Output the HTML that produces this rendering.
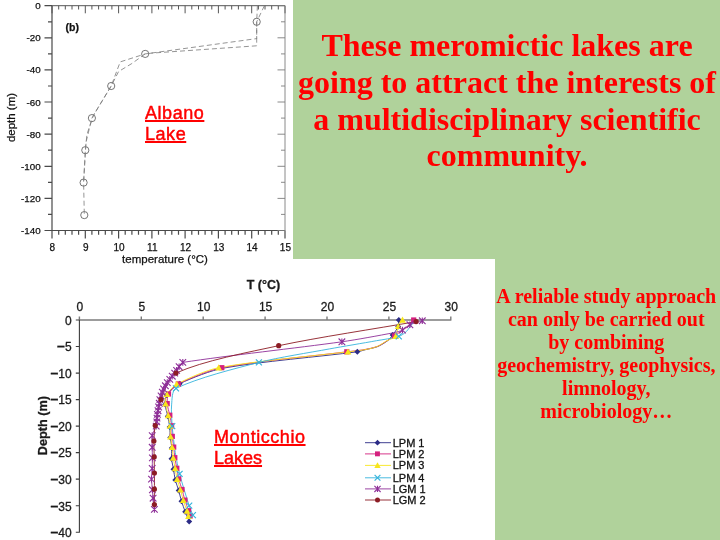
<!DOCTYPE html>
<html lang="en">
<head>
<meta charset="utf-8">
<title>Meromictic lakes</title>
<style>
html,body{margin:0;padding:0;}
body{width:720px;height:540px;overflow:hidden;background:#b0d29b;position:relative;font-family:"Liberation Sans",Arial,sans-serif;}
.w1{position:absolute;left:0;top:0;width:293px;height:259px;background:#fff;}
.w2{position:absolute;left:0;top:259px;width:495px;height:281px;background:#fff;}
svg{position:absolute;left:0;top:0;}
.title{position:absolute;left:295px;top:27px;width:424px;text-align:center;color:#f00;font-family:"Liberation Serif","Times New Roman",serif;font-weight:bold;font-size:32px;line-height:36.8px;margin:0;}
.sub{position:absolute;left:494.3px;top:285px;width:224px;text-align:center;color:#f00;font-family:"Liberation Serif","Times New Roman",serif;font-weight:bold;font-size:20px;line-height:22.9px;margin:0;}
.lab{position:absolute;color:#f00;font-family:"Liberation Sans","Trebuchet MS",sans-serif;font-size:18px;line-height:21px;text-decoration:underline;text-decoration-thickness:1.5px;text-underline-offset:1.4px;margin:0;letter-spacing:0.55px;-webkit-text-stroke:0.45px #f00;white-space:nowrap;}
</style>
</head>
<body>
<div class="w1"></div>
<div class="w2"></div>
<svg width="720" height="540" viewBox="0 0 720 540">
<g id="chart1">
<path d="M52 5.7V230.5H285M52 230.5v8M58.7 230.5v4.2M65.3 230.5v4.2M72 230.5v4.2M78.6 230.5v4.2M85.3 230.5v8M91.9 230.5v4.2M98.6 230.5v4.2M105.3 230.5v4.2M111.9 230.5v4.2M118.6 230.5v8M125.2 230.5v4.2M131.9 230.5v4.2M138.5 230.5v4.2M145.2 230.5v4.2M151.9 230.5v8M158.5 230.5v4.2M165.2 230.5v4.2M171.8 230.5v4.2M178.5 230.5v4.2M185.1 230.5v8M191.8 230.5v4.2M198.5 230.5v4.2M205.1 230.5v4.2M211.8 230.5v4.2M218.4 230.5v8M225.1 230.5v4.2M231.7 230.5v4.2M238.4 230.5v4.2M245.1 230.5v4.2M251.7 230.5v8M258.4 230.5v4.2M265 230.5v4.2M271.7 230.5v4.2M278.3 230.5v4.2M285 230.5v8M52 5.7h-7.5M52 21.8h-4M52 37.8h-7.5M52 53.9h-4M52 69.9h-7.5M52 86h-4M52 102h-7.5M52 118.1h-4M52 134.2h-7.5M52 150.2h-4M52 166.3h-7.5M52 182.3h-4M52 198.4h-7.5M52 214.4h-4M52 230.5h-7.5" stroke="#4a4a4a" stroke-width="1.2" fill="none"/>
<path d="M52 5.7H285M52 5.7v7.6M58.7 5.7v3.8000000000000003M65.3 5.7v3.8000000000000003M72 5.7v3.8000000000000003M78.6 5.7v3.8000000000000003M85.3 5.7v7.6M91.9 5.7v3.8000000000000003M98.6 5.7v3.8000000000000003M105.3 5.7v3.8000000000000003M111.9 5.7v3.8000000000000003M118.6 5.7v7.6M125.2 5.7v3.8000000000000003M131.9 5.7v3.8000000000000003M138.5 5.7v3.8000000000000003M145.2 5.7v3.8000000000000003M151.9 5.7v7.6M158.5 5.7v3.8000000000000003M165.2 5.7v3.8000000000000003M171.8 5.7v3.8000000000000003M178.5 5.7v3.8000000000000003M185.1 5.7v7.6M191.8 5.7v3.8000000000000003M198.5 5.7v3.8000000000000003M205.1 5.7v3.8000000000000003M211.8 5.7v3.8000000000000003M218.4 5.7v7.6M225.1 5.7v3.8000000000000003M231.7 5.7v3.8000000000000003M238.4 5.7v3.8000000000000003M245.1 5.7v3.8000000000000003M251.7 5.7v7.6M258.4 5.7v3.8000000000000003M265 5.7v3.8000000000000003M271.7 5.7v3.8000000000000003M278.3 5.7v3.8000000000000003M285 5.7v7.6" stroke="#555" stroke-width="1" fill="none"/>
<path d="M285 5.7V231M285 5.7h-7.5M285 21.8h-4M285 37.8h-7.5M285 53.9h-4M285 69.9h-7.5M285 86h-4M285 102h-7.5M285 118.1h-4M285 134.2h-7.5M285 150.2h-4M285 166.3h-7.5M285 182.3h-4M285 198.4h-7.5M285 214.4h-4M285 230.5h-7.5" stroke="#7d7d7d" stroke-width="0.9" fill="none"/>
<g font-family="Liberation Sans, Arial, sans-serif" font-size="9.8" fill="#111" stroke="#111" stroke-width="0.25">
<text x="52.4" y="250.9" text-anchor="middle" font-size="10">8</text>
<text x="85.7" y="250.9" text-anchor="middle" font-size="10">9</text>
<text x="119" y="250.9" text-anchor="middle" font-size="10">10</text>
<text x="152.3" y="250.9" text-anchor="middle" font-size="10">11</text>
<text x="185.5" y="250.9" text-anchor="middle" font-size="10">12</text>
<text x="218.8" y="250.9" text-anchor="middle" font-size="10">13</text>
<text x="252.1" y="250.9" text-anchor="middle" font-size="10">14</text>
<text x="285.4" y="250.9" text-anchor="middle" font-size="10">15</text>
<text x="40.7" y="9.2" text-anchor="end">0</text>
<text x="40.7" y="41.3" text-anchor="end">-20</text>
<text x="40.7" y="73.4" text-anchor="end">-40</text>
<text x="40.7" y="105.5" text-anchor="end">-60</text>
<text x="40.7" y="137.7" text-anchor="end">-80</text>
<text x="40.7" y="169.8" text-anchor="end">-100</text>
<text x="40.7" y="201.9" text-anchor="end">-120</text>
<text x="40.7" y="234" text-anchor="end">-140</text>
<text x="165" y="262.5" text-anchor="middle" font-size="11.5">temperature (°C)</text>
<text transform="translate(14.5 117.5) rotate(-90)" text-anchor="middle" font-size="11.5">depth (m)</text>
<text x="65.5" y="30.7" font-weight="bold" font-size="10.5">(b)</text>
</g>
<g stroke="#4a4a4a" stroke-width="0.75" fill="none">
<circle cx="256.7" cy="21.8" r="3.6"/>
<circle cx="145.2" cy="53.9" r="3.6"/>
<circle cx="111.2" cy="86" r="3.6"/>
<circle cx="91.9" cy="118.1" r="3.6"/>
<circle cx="85.3" cy="150.2" r="3.6"/>
<circle cx="83.6" cy="182.6" r="3.6"/>
<circle cx="84.3" cy="215.1" r="3.6"/>
<polyline points="264.4,5.7 256.7,21.8 256.7,38.6 145.2,53.9 120.2,61.9 111.2,86 91.9,118.1 86,142.2 84.6,166.3 83.6,182.3 84.3,214.4" stroke-dasharray="5 3" stroke="#7a7a7a" stroke-width="0.8"/>
<polyline points="257.4,5.7 256.7,21.8 256.7,45.8 151.9,53.1 145.2,53.9 131.9,63.5 118.6,71.5 111.2,86 93.6,114.9 87,134.2 85.3,150.2 83.6,182.3" stroke-dasharray="5 3" stroke="#7a7a7a" stroke-width="0.8"/>
</g>
</g>
<g id="chart2">
<path d="M78.9 320H451.4M79.4 320v-3.6M141.3 320v-3.6M203.2 320v-3.6M265.1 320v-3.6M327 320v-3.6M388.9 320v-3.6M450.8 320v-3.6" stroke="#7c7c7c" stroke-width="1.4" fill="none"/>
<path d="M79.4 532.7V320M79.4 320h-3.6M79.4 346.5h-3.6M79.4 373.1h-3.6M79.4 399.6h-3.6M79.4 426.1h-3.6M79.4 452.6h-3.6M79.4 479.1h-3.6M79.4 505.7h-3.6M79.4 532.2h-3.6" stroke="#3c3c3c" stroke-width="1.1" fill="none"/>
<g font-family="Liberation Sans, Arial, sans-serif" font-size="12" fill="#1a1a1a" stroke="#1a1a1a" stroke-width="0.3">
<text x="79.9" y="310.5" text-anchor="middle">0</text>
<text x="141.8" y="310.5" text-anchor="middle">5</text>
<text x="203.7" y="310.5" text-anchor="middle">10</text>
<text x="265.6" y="310.5" text-anchor="middle">15</text>
<text x="327.5" y="310.5" text-anchor="middle">20</text>
<text x="389.4" y="310.5" text-anchor="middle">25</text>
<text x="451.3" y="310.5" text-anchor="middle">30</text>
<text x="71.6" y="324.8" text-anchor="end">0</text>
<text x="71.6" y="351.3" text-anchor="end"><tspan font-weight="bold" font-size="14">–</tspan>5</text>
<text x="71.6" y="377.9" text-anchor="end"><tspan font-weight="bold" font-size="14">–</tspan>10</text>
<text x="71.6" y="404.4" text-anchor="end"><tspan font-weight="bold" font-size="14">–</tspan>15</text>
<text x="71.6" y="430.9" text-anchor="end"><tspan font-weight="bold" font-size="14">–</tspan>20</text>
<text x="71.6" y="457.4" text-anchor="end"><tspan font-weight="bold" font-size="14">–</tspan>25</text>
<text x="71.6" y="483.9" text-anchor="end"><tspan font-weight="bold" font-size="14">–</tspan>30</text>
<text x="71.6" y="510.5" text-anchor="end"><tspan font-weight="bold" font-size="14">–</tspan>35</text>
<text x="71.6" y="537" text-anchor="end"><tspan font-weight="bold" font-size="14">–</tspan>40</text>
<text x="263.5" y="288.5" text-anchor="middle" font-weight="bold" font-size="12.5">T (°C)</text>
<text transform="translate(46.8 425.6) rotate(-90)" text-anchor="middle" font-weight="bold" font-size="12.7">Depth (m)</text>
</g>
<path d="M398.8 320C398.6 321.8 398.9 324.7 398.2 326.4C397.1 329.1 394.3 332.8 392.6 335.1C391.4 336.8 389.3 339.4 387.7 340.7C385.1 342.6 380.7 345.3 377.8 346.5C374.4 347.9 368.8 348.8 365.4 349.7C363.1 350.3 359.6 351.5 357.3 351.8C320.1 356.7 261.2 361.4 224.2 368C211.2 370.3 191.7 378 179.7 383.7C175.3 385.7 169.3 391.1 166.6 395.1C165 397.3 165 401.9 165.2 404.6C165.4 408 167.1 413 167.8 416.3C168.4 419.2 169.3 423.9 169.7 426.9C170 429.9 170 434.5 170.3 437.5C170.6 440.5 171.6 445.1 171.8 448.1C171.9 451.1 171.3 455.8 171.5 458.7C171.8 461.7 173 466.4 173.5 469.3C174 472.3 174.6 477 175.3 479.9C176.1 483 177.8 487.6 178.7 490.6C179.5 493.5 180.6 498.2 181.5 501.2C182.5 504.2 184.1 508.8 185.2 511.8C186.3 514.5 188.1 518.8 189.2 521.6" fill="none" stroke="#2b2b86" stroke-width="0.9" stroke-linejoin="round"/>
<path d="M413.7 320C412.3 321.5 410.3 324 408.7 325.3C404.9 328.5 398.5 333 394.5 335.9C392.6 337.2 389.6 339.2 387.7 340.4C384.9 342.1 380.7 345.1 377.8 346.3C374.4 347.6 368.9 348.8 365.4 349.4C360.2 350.4 352 351.2 346.8 351.8C311.8 356.3 256.4 361.1 221.8 367.7C209 370.2 190 378.2 178.3 383.9C174.8 385.7 170.5 390.6 168.5 394C167.2 396.4 167 400.9 167.2 403.6C167.4 406.9 169.1 411.9 169.8 415.2C170.4 418.2 171.3 422.8 171.6 425.8C172 428.8 172 433.5 172.2 436.4C172.5 439.4 173.4 444.1 173.7 447.1C174.1 450 174.4 454.7 174.8 457.7C175.3 460.7 176.3 465.3 176.8 468.3C177.4 471.2 178 476 178.7 478.9C179.4 481.9 181.2 486.5 182 489.5C182.9 492.4 184 497.2 184.9 500.1C185.8 503.1 187.6 507.7 188.6 510.7C189.1 512.2 189.7 514.5 190.1 516" fill="none" stroke="#d4207e" stroke-width="0.9" stroke-linejoin="round"/>
<path d="M402.5 320C401.3 321.8 399 324.4 398.2 326.4C397.1 329 397.4 333.9 395.7 336.2C394 338.3 389.4 339.4 387 340.7C384.2 342.3 380.1 345.3 377.1 346.5C373.8 347.9 368.3 349.1 364.8 349.7C360.1 350.6 352.7 351.3 348 351.8C311.8 356.3 254.5 361 218.7 367.7C206.3 370.1 187.9 378.4 176.7 384.2C173.2 386 168.9 390.9 166.9 394.3C165.6 396.6 165.4 401.1 165.6 403.8C165.8 407.2 167.5 412.2 168.2 415.5C168.8 418.4 169.7 423.1 170 426.1C170.4 429.1 170.3 433.7 170.6 436.7C170.9 439.7 171.8 444.3 172.1 447.3C172.5 450.3 172.8 455 173.2 457.9C173.7 460.9 174.7 465.6 175.2 468.5C175.8 471.5 176.4 476.2 177.1 479.1C177.8 482.2 179.5 486.8 180.4 489.8C181.3 492.7 182.4 497.4 183.3 500.4C184.2 503.4 186 508 187 511C187.5 512.4 188.1 514.8 188.5 516.3" fill="none" stroke="#f7e51c" stroke-width="0.9" stroke-linejoin="round"/>
<path d="M413.7 321.6C411.6 324.4 408.7 329.2 406.2 331.7C404.5 333.4 401.2 335.7 398.8 336.4C392.7 338.3 382.8 339.6 376.5 340.7C363.4 343.1 342.6 346.5 329.5 348.9C309.7 352.6 278.4 357.4 258.9 362.4C235.3 368.5 197.9 377.8 176 388.4C171.7 390.5 172.1 400.1 171.6 404.9C171 410.8 171.8 420.2 172.2 426.1C172.8 433.6 174.2 445.2 175.3 452.6C176.3 458.6 178 468 179.6 473.8C181.9 482.9 186.3 496.8 189.2 505.7C190.1 508.4 191.9 512.6 192.9 515.2" fill="none" stroke="#35b4dc" stroke-width="0.9" stroke-linejoin="round"/>
<path d="M422.3 320.8C418.9 321.9 413.2 323.2 409.9 324.8C407.6 325.9 404.8 328.9 402.5 330.1C400.2 331.2 396.3 332.3 393.9 332.7C379.3 335.5 356.5 339.7 341.9 341.8C297.4 348 227.2 355.6 182.8 362.4C181.2 362.7 180 365.4 179.1 366.7C178.3 367.7 177.3 369.4 176.6 370.4C176.1 371.1 175.3 372.3 174.7 373.1C174.1 374 172.9 375.3 172.2 376.2C171.6 377.1 170.5 378.5 169.8 379.4C169.1 380.3 167.9 381.7 167.3 382.6C166.7 383.5 166 384.9 165.4 385.8C164.9 386.7 164 388 163.6 389C163.2 389.8 162.7 391.2 162.3 392.1C162 393.2 161.5 394.8 161.1 395.9C160.8 396.9 160.1 398.5 159.9 399.6C159.6 400.6 159.4 402.2 159.3 403.3C159.1 404.3 158.8 406 158.6 407C158.5 408 158.2 409.7 158 410.7C157.8 411.8 157.5 413.4 157.4 414.4C157.3 415.5 157.1 417.1 157 418.1C156.9 419.2 156.9 420.8 156.8 421.9C156.6 423 156.5 425 156.2 426.1C155.2 428.8 152.7 432.8 152.2 435.6C151.6 438.9 152.2 444.1 152.2 447.3C152.2 450.3 152.4 455 152.4 457.9C152.4 460.9 152.3 465.6 152.2 468.5C152.1 471.5 151.4 476.2 151.5 479.1C151.5 482.1 152.2 486.8 152.4 489.8C152.6 492.1 152.8 495.9 153.1 498.2C153.4 501.4 154 506.3 154.4 509.4" fill="none" stroke="#8e2f98" stroke-width="0.9" stroke-linejoin="round"/>
<path d="M416.1 321.6C377.7 328.4 316.9 337.5 278.7 345.7C249.6 352 203 360.7 176 373.1C168.2 376.6 164.2 391.7 161.1 399.6C158.4 406.5 156.4 418.2 155.2 425.6C154.4 429.8 154.1 436.6 153.9 441C153.8 445.4 154.1 452.4 154.2 456.9C154.2 461.4 154.4 468.5 154.4 473C154.5 477.6 154.4 484.7 154.4 489.2C154.4 493.5 154.4 500.3 154.4 504.6" fill="none" stroke="#8c1c24" stroke-width="0.9" stroke-linejoin="round"/>
<path d="M398.8 317L401.8 320L398.8 323L395.8 320Z" fill="#2b2b86"/>
<path d="M398.2 323.4L401.2 326.4L398.2 329.4L395.2 326.4Z" fill="#2b2b86"/>
<path d="M392.6 332.1L395.6 335.1L392.6 338.1L389.6 335.1Z" fill="#2b2b86"/>
<path d="M357.3 348.8L360.3 351.8L357.3 354.8L354.3 351.8Z" fill="#2b2b86"/>
<path d="M179.7 380.7L182.7 383.7L179.7 386.7L176.7 383.7Z" fill="#2b2b86"/>
<path d="M166.6 392.1L169.6 395.1L166.6 398.1L163.6 395.1Z" fill="#2b2b86"/>
<path d="M165.2 401.6L168.2 404.6L165.2 407.6L162.2 404.6Z" fill="#2b2b86"/>
<path d="M167.8 413.3L170.8 416.3L167.8 419.3L164.8 416.3Z" fill="#2b2b86"/>
<path d="M169.7 423.9L172.7 426.9L169.7 429.9L166.7 426.9Z" fill="#2b2b86"/>
<path d="M170.3 434.5L173.3 437.5L170.3 440.5L167.3 437.5Z" fill="#2b2b86"/>
<path d="M171.8 445.1L174.8 448.1L171.8 451.1L168.8 448.1Z" fill="#2b2b86"/>
<path d="M171.5 455.7L174.5 458.7L171.5 461.7L168.5 458.7Z" fill="#2b2b86"/>
<path d="M173.5 466.3L176.5 469.3L173.5 472.3L170.5 469.3Z" fill="#2b2b86"/>
<path d="M175.3 476.9L178.3 479.9L175.3 482.9L172.3 479.9Z" fill="#2b2b86"/>
<path d="M178.7 487.6L181.7 490.6L178.7 493.6L175.7 490.6Z" fill="#2b2b86"/>
<path d="M181.5 498.2L184.5 501.2L181.5 504.2L178.5 501.2Z" fill="#2b2b86"/>
<path d="M185.2 508.8L188.2 511.8L185.2 514.8L182.2 511.8Z" fill="#2b2b86"/>
<path d="M189.2 518.6L192.2 521.6L189.2 524.6L186.2 521.6Z" fill="#2b2b86"/>
<rect x="411.1" y="317.4" width="5.2" height="5.2" fill="#d4207e"/>
<rect x="391.9" y="333.3" width="5.2" height="5.2" fill="#d4207e"/>
<rect x="344.2" y="349.2" width="5.2" height="5.2" fill="#d4207e"/>
<rect x="219.2" y="365.1" width="5.2" height="5.2" fill="#d4207e"/>
<rect x="175.7" y="381.3" width="5.2" height="5.2" fill="#d4207e"/>
<rect x="165.9" y="391.4" width="5.2" height="5.2" fill="#d4207e"/>
<rect x="164.6" y="401" width="5.2" height="5.2" fill="#d4207e"/>
<rect x="167.2" y="412.6" width="5.2" height="5.2" fill="#d4207e"/>
<rect x="169" y="423.2" width="5.2" height="5.2" fill="#d4207e"/>
<rect x="169.7" y="433.8" width="5.2" height="5.2" fill="#d4207e"/>
<rect x="171.1" y="444.5" width="5.2" height="5.2" fill="#d4207e"/>
<rect x="172.2" y="455.1" width="5.2" height="5.2" fill="#d4207e"/>
<rect x="174.2" y="465.7" width="5.2" height="5.2" fill="#d4207e"/>
<rect x="176.1" y="476.3" width="5.2" height="5.2" fill="#d4207e"/>
<rect x="179.4" y="486.9" width="5.2" height="5.2" fill="#d4207e"/>
<rect x="182.3" y="497.5" width="5.2" height="5.2" fill="#d4207e"/>
<rect x="186" y="508.1" width="5.2" height="5.2" fill="#d4207e"/>
<rect x="187.5" y="513.4" width="5.2" height="5.2" fill="#d4207e"/>
<path d="M402.5 316.6L405.9 322.7H399.1Z" fill="#f7e51c"/>
<path d="M398.2 323L401.6 329.1H394.8Z" fill="#f7e51c"/>
<path d="M395.7 332.8L399.1 338.9H392.3Z" fill="#f7e51c"/>
<path d="M348 348.4L351.4 354.6H344.6Z" fill="#f7e51c"/>
<path d="M218.7 364.3L222.1 370.5H215.3Z" fill="#f7e51c"/>
<path d="M176.7 380.8L180.1 386.9H173.3Z" fill="#f7e51c"/>
<path d="M166.9 390.9L170.3 397H163.5Z" fill="#f7e51c"/>
<path d="M165.6 400.4L169 406.5H162.2Z" fill="#f7e51c"/>
<path d="M168.2 412.1L171.6 418.2H164.8Z" fill="#f7e51c"/>
<path d="M170 422.7L173.4 428.8H166.6Z" fill="#f7e51c"/>
<path d="M170.6 433.3L174 439.4H167.2Z" fill="#f7e51c"/>
<path d="M172.1 443.9L175.5 450H168.7Z" fill="#f7e51c"/>
<path d="M173.2 454.5L176.6 460.7H169.8Z" fill="#f7e51c"/>
<path d="M175.2 465.1L178.6 471.3H171.8Z" fill="#f7e51c"/>
<path d="M177.1 475.8L180.5 481.9H173.7Z" fill="#f7e51c"/>
<path d="M180.4 486.4L183.8 492.5H177Z" fill="#f7e51c"/>
<path d="M183.3 497L186.7 503.1H179.9Z" fill="#f7e51c"/>
<path d="M187 507.6L190.4 513.7H183.6Z" fill="#f7e51c"/>
<path d="M188.5 512.9L191.9 519H185.1Z" fill="#f7e51c"/>
<path d="M395.8 333.4L401.8 339.4M395.8 339.4L401.8 333.4" stroke="#35b4dc" stroke-width="1.2" fill="none"/>
<path d="M255.9 359.4L261.9 365.4M255.9 365.4L261.9 359.4" stroke="#35b4dc" stroke-width="1.2" fill="none"/>
<path d="M173 385.4L179 391.4M173 391.4L179 385.4" stroke="#35b4dc" stroke-width="1.2" fill="none"/>
<path d="M169.2 423.1L175.2 429.1M169.2 429.1L175.2 423.1" stroke="#35b4dc" stroke-width="1.2" fill="none"/>
<path d="M176.6 470.8L182.6 476.8M176.6 476.8L182.6 470.8" stroke="#35b4dc" stroke-width="1.2" fill="none"/>
<path d="M186.2 502.7L192.2 508.7M186.2 508.7L192.2 502.7" stroke="#35b4dc" stroke-width="1.2" fill="none"/>
<path d="M189.9 512.2L195.9 518.2M189.9 518.2L195.9 512.2" stroke="#35b4dc" stroke-width="1.2" fill="none"/>
<path d="M419 317.5L425.6 324.1M419 324.1L425.6 317.5M422.3 317.5V324.1" stroke="#8e2f98" stroke-width="1.1" fill="none"/>
<path d="M406.6 321.5L413.2 328.1M406.6 328.1L413.2 321.5M409.9 321.5V328.1" stroke="#8e2f98" stroke-width="1.1" fill="none"/>
<path d="M399.2 326.8L405.8 333.4M399.2 333.4L405.8 326.8M402.5 326.8V333.4" stroke="#8e2f98" stroke-width="1.1" fill="none"/>
<path d="M338.6 338.5L345.2 345.1M338.6 345.1L345.2 338.5M341.9 338.5V345.1" stroke="#8e2f98" stroke-width="1.1" fill="none"/>
<path d="M179.5 359.1L186.1 365.7M179.5 365.7L186.1 359.1M182.8 359.1V365.7" stroke="#8e2f98" stroke-width="1.1" fill="none"/>
<path d="M175.8 363.4L182.4 370M175.8 370L182.4 363.4M179.1 363.4V370" stroke="#8e2f98" stroke-width="1.1" fill="none"/>
<path d="M173.3 367.1L179.9 373.7M173.3 373.7L179.9 367.1M176.6 367.1V373.7" stroke="#8e2f98" stroke-width="1.1" fill="none"/>
<path d="M171.4 369.8L178 376.4M171.4 376.4L178 369.8M174.7 369.8V376.4" stroke="#8e2f98" stroke-width="1.1" fill="none"/>
<path d="M168.9 372.9L175.6 379.5M168.9 379.5L175.6 372.9M172.2 372.9V379.5" stroke="#8e2f98" stroke-width="1.1" fill="none"/>
<path d="M166.5 376.1L173.1 382.7M166.5 382.7L173.1 376.1M169.8 376.1V382.7" stroke="#8e2f98" stroke-width="1.1" fill="none"/>
<path d="M164 379.3L170.6 385.9M164 385.9L170.6 379.3M167.3 379.3V385.9" stroke="#8e2f98" stroke-width="1.1" fill="none"/>
<path d="M162.1 382.5L168.7 389.1M162.1 389.1L168.7 382.5M165.4 382.5V389.1" stroke="#8e2f98" stroke-width="1.1" fill="none"/>
<path d="M160.3 385.7L166.9 392.3M160.3 392.3L166.9 385.7M163.6 385.7V392.3" stroke="#8e2f98" stroke-width="1.1" fill="none"/>
<path d="M159 388.8L165.6 395.4M159 395.4L165.6 388.8M162.3 388.8V395.4" stroke="#8e2f98" stroke-width="1.1" fill="none"/>
<path d="M157.8 392.6L164.4 399.2M157.8 399.2L164.4 392.6M161.1 392.6V399.2" stroke="#8e2f98" stroke-width="1.1" fill="none"/>
<path d="M156.6 396.3L163.2 402.9M156.6 402.9L163.2 396.3M159.9 396.3V402.9" stroke="#8e2f98" stroke-width="1.1" fill="none"/>
<path d="M156 400L162.6 406.6M156 406.6L162.6 400M159.3 400V406.6" stroke="#8e2f98" stroke-width="1.1" fill="none"/>
<path d="M155.3 403.7L161.9 410.3M155.3 410.3L161.9 403.7M158.6 403.7V410.3" stroke="#8e2f98" stroke-width="1.1" fill="none"/>
<path d="M154.7 407.4L161.3 414M154.7 414L161.3 407.4M158 407.4V414" stroke="#8e2f98" stroke-width="1.1" fill="none"/>
<path d="M154.1 411.1L160.7 417.7M154.1 417.7L160.7 411.1M157.4 411.1V417.7" stroke="#8e2f98" stroke-width="1.1" fill="none"/>
<path d="M153.7 414.8L160.3 421.4M153.7 421.4L160.3 414.8M157 414.8V421.4" stroke="#8e2f98" stroke-width="1.1" fill="none"/>
<path d="M153.5 418.6L160.1 425.2M153.5 425.2L160.1 418.6M156.8 418.6V425.2" stroke="#8e2f98" stroke-width="1.1" fill="none"/>
<path d="M152.9 422.8L159.5 429.4M152.9 429.4L159.5 422.8M156.2 422.8V429.4" stroke="#8e2f98" stroke-width="1.1" fill="none"/>
<path d="M148.9 432.3L155.5 438.9M148.9 438.9L155.5 432.3M152.2 432.3V438.9" stroke="#8e2f98" stroke-width="1.1" fill="none"/>
<path d="M148.9 444L155.5 450.6M148.9 450.6L155.5 444M152.2 444V450.6" stroke="#8e2f98" stroke-width="1.1" fill="none"/>
<path d="M149.1 454.6L155.7 461.2M149.1 461.2L155.7 454.6M152.4 454.6V461.2" stroke="#8e2f98" stroke-width="1.1" fill="none"/>
<path d="M148.9 465.2L155.5 471.8M148.9 471.8L155.5 465.2M152.2 465.2V471.8" stroke="#8e2f98" stroke-width="1.1" fill="none"/>
<path d="M148.2 475.8L154.8 482.4M148.2 482.4L154.8 475.8M151.5 475.8V482.4" stroke="#8e2f98" stroke-width="1.1" fill="none"/>
<path d="M149.1 486.5L155.7 493.1M149.1 493.1L155.7 486.5M152.4 486.5V493.1" stroke="#8e2f98" stroke-width="1.1" fill="none"/>
<path d="M149.8 494.9L156.4 501.5M149.8 501.5L156.4 494.9M153.1 494.9V501.5" stroke="#8e2f98" stroke-width="1.1" fill="none"/>
<path d="M151.1 506.1L157.7 512.7M151.1 512.7L157.7 506.1M154.4 506.1V512.7" stroke="#8e2f98" stroke-width="1.1" fill="none"/>
<circle cx="416.1" cy="321.6" r="2.6" fill="#8c1c24"/>
<circle cx="278.7" cy="345.7" r="2.6" fill="#8c1c24"/>
<circle cx="176" cy="373.1" r="2.6" fill="#8c1c24"/>
<circle cx="161.1" cy="399.6" r="2.6" fill="#8c1c24"/>
<circle cx="155.2" cy="425.6" r="2.6" fill="#8c1c24"/>
<circle cx="153.9" cy="441" r="2.6" fill="#8c1c24"/>
<circle cx="154.2" cy="456.9" r="2.6" fill="#8c1c24"/>
<circle cx="154.4" cy="473" r="2.6" fill="#8c1c24"/>
<circle cx="154.4" cy="489.2" r="2.6" fill="#8c1c24"/>
<circle cx="154.4" cy="504.6" r="2.6" fill="#8c1c24"/>
<g font-family="Liberation Sans, Arial, sans-serif" font-size="11">
<path d="M365 442.7H391" stroke="#2b2b86" stroke-width="0.9"/>
<path d="M377.5 439.8L380.4 442.7L377.5 445.6L374.6 442.7Z" fill="#2b2b86"/>
<text x="392.7" y="446.7" fill="#111" stroke="#111" stroke-width="0.3">LPM 1</text>
<path d="M365 453.9H391" stroke="#d4207e" stroke-width="0.9"/>
<rect x="375" y="451.4" width="4.9" height="4.9" fill="#d4207e"/>
<text x="392.7" y="457.9" fill="#111" stroke="#111" stroke-width="0.3">LPM 2</text>
<path d="M365 465.4H391" stroke="#f7e51c" stroke-width="0.9"/>
<path d="M377.5 462.2L380.7 468H374.3Z" fill="#f7e51c"/>
<text x="392.7" y="469.4" fill="#111" stroke="#111" stroke-width="0.3">LPM 3</text>
<path d="M365 477.8H391" stroke="#35b4dc" stroke-width="0.9"/>
<path d="M374.6 474.9L380.4 480.7M374.6 480.7L380.4 474.9" stroke="#35b4dc" stroke-width="1.2" fill="none"/>
<text x="392.7" y="481.8" fill="#111" stroke="#111" stroke-width="0.3">LPM 4</text>
<path d="M365 488.9H391" stroke="#8e2f98" stroke-width="0.9"/>
<path d="M374.4 485.8L380.6 492M374.4 492L380.6 485.8M377.5 485.8V492" stroke="#8e2f98" stroke-width="1.1" fill="none"/>
<text x="392.7" y="492.9" fill="#111" stroke="#111" stroke-width="0.3">LGM 1</text>
<path d="M365 500H391" stroke="#8c1c24" stroke-width="0.9"/>
<circle cx="377.5" cy="500" r="2.5" fill="#8c1c24"/>
<text x="392.7" y="504" fill="#111" stroke="#111" stroke-width="0.3">LGM 2</text>
</g>
</g>
</svg>
<h1 class="title">These meromictic lakes are<br>going to attract the interests of<br>a multidisciplinary scientific<br>community.</h1>
<p class="sub">A reliable study approach<br>can only be carried out<br>by combining<br>geochemistry, geophysics,<br>limnology,<br>microbiology…</p>
<p class="lab" style="left:145px;top:102.5px;">Albano<br>Lake</p>
<p class="lab" style="left:214px;top:426.5px;">Monticchio<br><span style="letter-spacing:0">Lakes</span></p>
</body>
</html>
